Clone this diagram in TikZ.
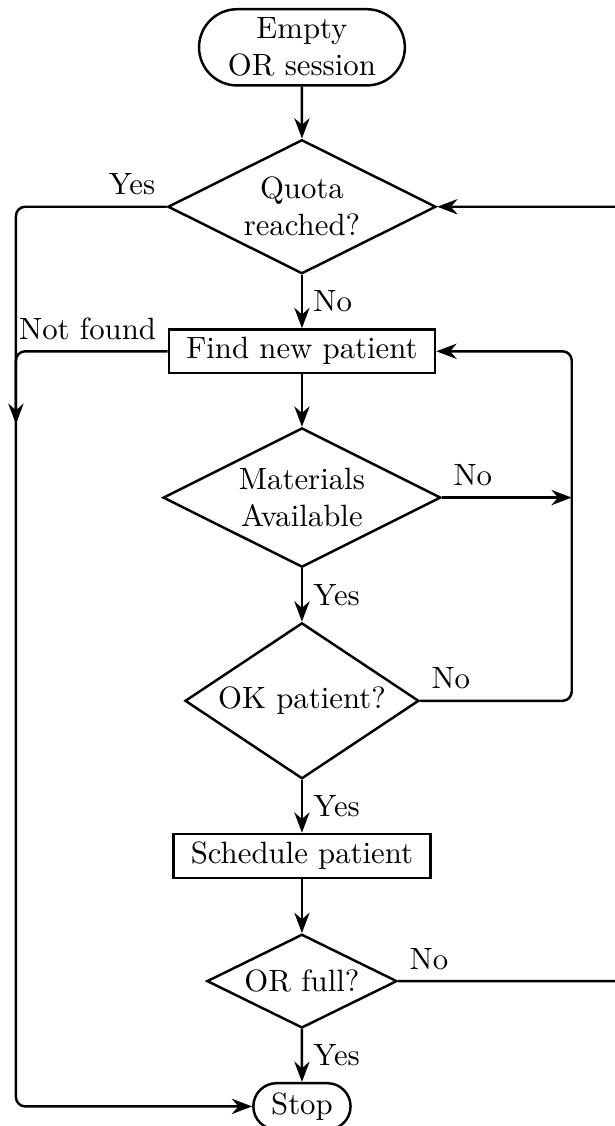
\documentclass[tikz,border=0pt]{standalone}
\usepackage{tikz}
\usetikzlibrary{arrows.meta, calc, positioning, shapes.geometric, shapes.misc}

\begin{document}
\begin{tikzpicture}[>=Stealth, thick,
    terminal/.style={draw, rounded rectangle, align=center, inner sep=1pt},
    process/.style={draw, rectangle, minimum height=0.5cm, inner sep=1pt},
    decision/.style={draw, diamond, aspect=2, align=center, inner sep=0pt},
    flow/.style={->, rounded corners=3pt}]
    % Frame
    \clip (-3.447,0) rectangle (3.573,-12.854);

    % Nodes
    \node[terminal, minimum width=2.42cm, minimum height=0.87cm] (start) at (0,-0.54) {Empty\\OR session};
    \node[decision, minimum width=3.06cm, minimum height=1.53cm] (quota) at (0,-2.36) {Quota\\reached?};
    \node[process, minimum width=3.04cm] (find) at (0,-4.01) {Find new patient};
    \node[decision, minimum width=3.17cm, minimum height=1.59cm] (mat) at (0,-5.68) {Materials\\Available};
    \node[decision, aspect=1.5, minimum width=2.67cm, minimum height=1.78cm] (ok) at (0,-8.00) {OK patient?};
    \node[process, minimum width=2.93cm] (sched) at (0,-9.77) {Schedule patient};
    \node[decision, minimum width=2.17cm, minimum height=1.07cm] (full) at (0,-11.20) {OR full?};
    \node[terminal, minimum width=1.18cm, minimum height=0.53cm] (stop) at (0,-12.63) {Stop};

    % Side lanes
    \coordinate (lft) at (-3.265,0);
    \coordinate (rgt) at (3.08,0);
    \coordinate (outer) at (4.0,0);

    % Main flow
    \draw[flow] (start) -- (quota);
    \draw[flow] (quota) -- node[right] {No} (find);
    \draw[flow] (find) -- (mat);
    \draw[flow] (mat) -- node[right] {Yes} (ok);
    \draw[flow] (ok) -- node[right] {Yes} (sched);
    \draw[flow] (sched) -- (full);
    \draw[flow] (full) -- node[right] {Yes} (stop);

    % Loops
    \draw[flow] (quota.west) node[above left] {Yes} -- (quota.west -| lft) -- (stop.west -| lft) -- (stop.west);
    \draw[flow] (find.west) node[above left] {Not found} -- (find.west -| lft) -- ++(0,-0.83);
    \draw[flow] (ok.east) node[above right] {No} -- (ok.east -| rgt) -- (find.east -| rgt) -- (find.east);
    \draw[flow] (mat.east) node[above right] {No} -- (mat.east -| rgt);
    \draw[flow] (full.east) node[above right] {No} -- (full.east -| outer) -- (quota.east -| outer) -- (quota.east);
\end{tikzpicture}
\end{document}
